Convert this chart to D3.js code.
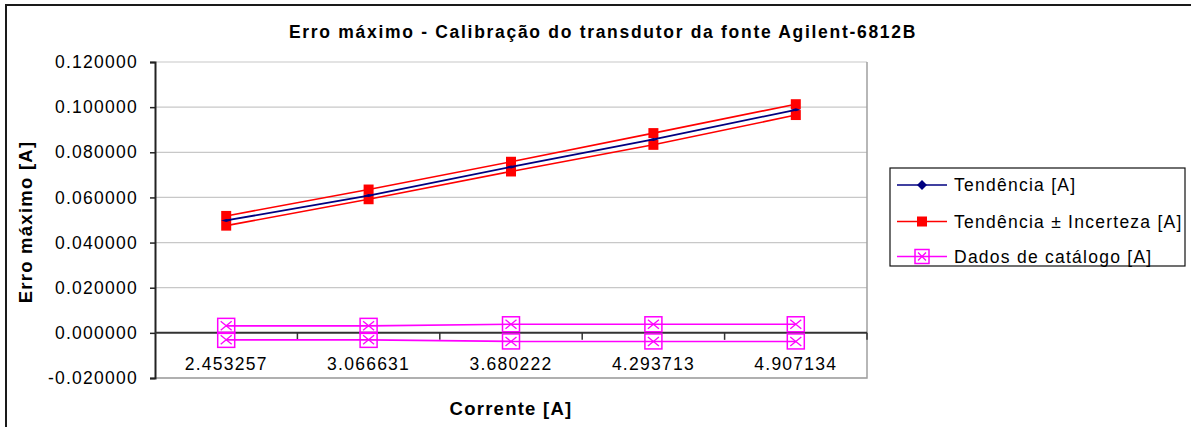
<!DOCTYPE html>
<html>
<head>
<meta charset="utf-8">
<script src="https://cdn.jsdelivr.net/npm/d3@7"></script>
<style>
  html, body { margin: 0; padding: 0; background: #fff; }
  svg { display: block; font-family: "Liberation Sans", Arial, sans-serif; }
  text { letter-spacing: 1.25px; }
</style>
</head>
<body>
<svg id="chart" width="1191" height="427"></svg>
<script>
// Current set-points (category labels, A)
const correntes = ["2.453257", "3.066631", "3.680222", "4.293713", "4.907134"];
// Trend of maximum error [A]
const tendencia = [0.0498, 0.0608, 0.0735, 0.0857, 0.0988];
// Trend ± uncertainty [A]
const tendenciaMais = [0.0518, 0.0635, 0.0758, 0.0885, 0.1013];
const tendenciaMenos = [0.0475, 0.0592, 0.0715, 0.0833, 0.0965];
// Catalogue specification [A]
const catalogoMais = [0.0031, 0.0031, 0.0038, 0.0038, 0.0038];
const catalogoMenos = [-0.0031, -0.0031, -0.0038, -0.0038, -0.0038];
// Y-axis ticks
const yTicks = [-0.02, 0, 0.02, 0.04, 0.06, 0.08, 0.10, 0.12];

const svg = d3.select("#chart");
const plot = { left: 155, right: 867, top: 62, bottom: 378 };

const NAVY = "#000080", RED = "#ff0000", MAGENTA = "#ff00ff";

// Outer chart frame (runs off the right and bottom edges)
svg.append("rect")
  .attr("x", 6).attr("y", 5).attr("width", 1200).attr("height", 440)
  .attr("fill", "none").attr("stroke", "#1a1a1a").attr("stroke-width", 2);

const x = d3.scaleBand().domain(correntes).range([plot.left, plot.right]);
const y = d3.scaleLinear().domain([-0.02, 0.12]).range([plot.bottom, plot.top]);
const cx = d => x(d) + x.bandwidth() / 2;

// Horizontal gridlines
svg.append("g").selectAll("line")
  .data(yTicks.filter(t => t !== 0))
  .join("line")
  .attr("x1", plot.left).attr("x2", plot.right)
  .attr("y1", d => y(d)).attr("y2", d => y(d))
  .attr("stroke", "#c8c8c8").attr("stroke-width", 1.2);

// Plot-area border (right and bottom)
svg.append("path")
  .attr("d", `M${plot.right},${plot.top}V${plot.bottom}H${plot.left}`)
  .attr("fill", "none").attr("stroke", "#a0a0a0").attr("stroke-width", 1.5);

// Y axis (plain hyphen for negatives)
const fmt = d3.format(".6f");
const yAxis = d3.axisLeft(y).tickValues(yTicks)
  .tickFormat(d => fmt(d).replace("\u2212", "-"))
  .tickSizeOuter(0).tickSize(5).tickPadding(12);
const gy = svg.append("g").attr("transform", `translate(${plot.left},0)`).call(yAxis);
gy.select(".domain").attr("stroke", "#222").attr("stroke-width", 2);
gy.selectAll(".tick line").attr("stroke", "#222").attr("stroke-width", 1.5);
gy.selectAll(".tick text")
  .attr("font-size", 17.5).attr("fill", "#000")
  .attr("font-family", "Liberation Sans, Arial, sans-serif");

// X axis on the zero line, ticks between categories
const gx = svg.append("g");
gx.append("line")
  .attr("x1", plot.left).attr("x2", plot.right)
  .attr("y1", y(0)).attr("y2", y(0))
  .attr("stroke", "#333").attr("stroke-width", 2);
gx.selectAll(".sep")
  .data(correntes)
  .join("line")
  .attr("class", "sep")
  .attr("x1", d => x(d) + x.bandwidth()).attr("x2", d => x(d) + x.bandwidth())
  .attr("y1", y(0)).attr("y2", y(0) + 7)
  .attr("stroke", "#333").attr("stroke-width", 1.5);
gx.selectAll(".lbl")
  .data(correntes)
  .join("text")
  .attr("class", "lbl")
  .attr("x", d => cx(d)).attr("y", 370)
  .attr("text-anchor", "middle")
  .attr("font-size", 17.5)
  .text(d => d);

const line = vals => d3.line()
  .x((v, i) => cx(correntes[i]))
  .y(v => y(v))(vals);

// Catalogue series (magenta, boxed-X markers)
[catalogoMais, catalogoMenos].forEach(vals => {
  svg.append("path").attr("d", line(vals))
    .attr("fill", "none").attr("stroke", MAGENTA).attr("stroke-width", 1.6);
});
function boxX(g, px, py, w, h) {
  g.append("rect").attr("x", px - w / 2).attr("y", py - h / 2)
    .attr("width", w).attr("height", h)
    .attr("fill", "none").attr("stroke", MAGENTA).attr("stroke-width", 1.5);
  g.append("path")
    .attr("d", `M${px - w / 2 + 3},${py - h / 2 + 3}L${px + w / 2 - 3},${py + h / 2 - 3}M${px + w / 2 - 3},${py - h / 2 + 3}L${px - w / 2 + 3},${py + h / 2 - 3}`)
    .attr("stroke", MAGENTA).attr("stroke-width", 1.3);
}
const gCat = svg.append("g");
[catalogoMais, catalogoMenos].forEach(vals => {
  vals.forEach((v, i) => boxX(gCat, cx(correntes[i]), y(v), 17, 15));
});

// Trend ± uncertainty (red, square markers)
[tendenciaMais, tendenciaMenos].forEach(vals => {
  svg.append("path").attr("d", line(vals))
    .attr("fill", "none").attr("stroke", RED).attr("stroke-width", 1.6);
  svg.append("g").selectAll("rect")
    .data(vals)
    .join("rect")
    .attr("x", (v, i) => cx(correntes[i]) - 5)
    .attr("y", v => y(v) - 5)
    .attr("width", 10).attr("height", 10)
    .attr("fill", RED);
});

// Trend (navy line, diamond markers)
svg.append("path").attr("d", line(tendencia))
  .attr("fill", "none").attr("stroke", NAVY).attr("stroke-width", 1.8);
svg.append("g").selectAll("path")
  .data(tendencia)
  .join("path")
  .attr("d", (v, i) => {
    const px = cx(correntes[i]), py = y(v);
    return `M${px - 5},${py}L${px},${py - 1.5}L${px + 5},${py}L${px},${py + 1.5}Z`;
  })
  .attr("fill", NAVY);

// Title
svg.append("text")
  .attr("x", 603).attr("y", 38)
  .attr("text-anchor", "middle")
  .attr("font-size", 17.5).attr("font-weight", "bold")
  .style("letter-spacing", "1.7px")
  .text("Erro máximo - Calibração do transdutor da fonte Agilent-6812B");

// Axis titles
svg.append("text")
  .attr("transform", `translate(32,${(plot.top + plot.bottom) / 2 + 2}) rotate(-90)`)
  .attr("text-anchor", "middle")
  .attr("font-size", 18.5).attr("font-weight", "bold")
  .text("Erro máximo [A]");
svg.append("text")
  .attr("x", (plot.left + plot.right) / 2).attr("y", 415)
  .attr("text-anchor", "middle")
  .attr("font-size", 18.5).attr("font-weight", "bold")
  .text("Corrente [A]");

// Legend
const leg = svg.append("g");
leg.append("rect")
  .attr("x", 890).attr("y", 168).attr("width", 295).attr("height", 98)
  .attr("fill", "#fff").attr("stroke", "#111").attr("stroke-width", 1.2);
const legItems = [
  { label: "Tendência [A]", color: NAVY, marker: "diamond", cy: 185 },
  { label: "Tendência ± Incerteza [A]", color: RED, marker: "square", cy: 221.5 },
  { label: "Dados de catálogo [A]", color: MAGENTA, marker: "boxx", cy: 256.5 }
];
legItems.forEach(it => {
  leg.append("line")
    .attr("x1", 897).attr("x2", 947).attr("y1", it.cy).attr("y2", it.cy)
    .attr("stroke", it.color).attr("stroke-width", 1.5);
  if (it.marker === "diamond") {
    leg.append("path")
      .attr("d", `M917,${it.cy}L922,${it.cy - 5}L927,${it.cy}L922,${it.cy + 5}Z`)
      .attr("fill", it.color);
  } else if (it.marker === "square") {
    leg.append("rect").attr("x", 917).attr("y", it.cy - 5)
      .attr("width", 10).attr("height", 10).attr("fill", it.color);
  } else {
    boxX(leg, 922, it.cy, 14, 14);
  }
  leg.append("text")
    .attr("x", 954).attr("y", it.cy + 6)
    .attr("font-size", 17.5)
    .text(it.label);
});
</script>
</body>
</html>
